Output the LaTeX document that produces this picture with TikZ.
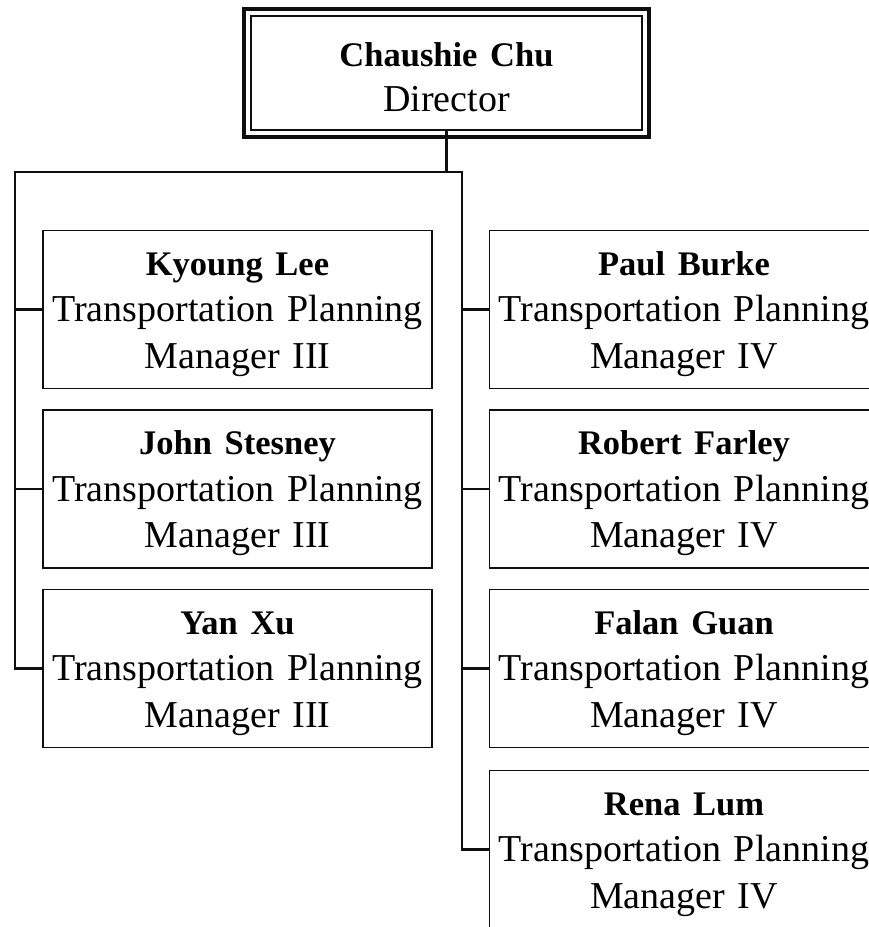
\documentclass[tikz,border=0pt]{standalone}
\usepackage{fontspec}
\setmainfont{Liberation Serif}
\usepackage{tikz}
\usetikzlibrary{positioning}
\definecolor{orgink}{RGB}{15,15,15}
\newcommand{\pname}[1]{{\fontsize{34.5}{46.5}\selectfont\bfseries\rule{0pt}{33pt}#1}}
\tikzstyle{link} = [line width=2.2pt, color=orgink]
\tikzstyle{staff} = [rectangle, minimum width=389pt, minimum height=158pt, text width=385pt, align=center, inner sep=0pt, draw=orgink, line width=1.2pt, font=\fontsize{38}{46.5}\selectfont]
\tikzstyle{headbox} = [rectangle, minimum width=391pt, minimum height=114pt, text width=385pt, align=center, inner sep=0pt, draw=orgink, line width=1.2pt, font=\fontsize{38}{45}\selectfont]

\begin{document}
\begin{tikzpicture}[x=1pt, y=1pt]
\useasboundingbox (0,0) rectangle (869,-927);
\clip (0,0) rectangle (869,-927);

% Director
\node (dir) [headbox] at (446.5,-73) {\pname{Chaushie Chu}\\Director};
\draw[line width=4.5pt, orgink] ([shift={(-6.5pt,6.5pt)}]dir.north west) rectangle ([shift={(6.5pt,-6.5pt)}]dir.south east);

% Left column
\node (kyoung) [staff] at (237.5,-309.5) {\pname{Kyoung Lee}\\Transportation Planning\\Manager III};
\node (john) [staff, below of=kyoung, node distance=179.5pt] {\pname{John Stesney}\\Transportation Planning\\Manager III};
\node (yan) [staff, below of=john, node distance=179.5pt] {\pname{Yan Xu}\\Transportation Planning\\Manager III};

% Right column
\node (paul) [staff] at (684,-309.5) {\pname{Paul Burke}\\Transportation Planning\\Manager IV};
\node (robert) [staff, below of=paul, node distance=179.5pt] {\pname{Robert Farley}\\Transportation Planning\\Manager IV};
\node (falan) [staff, below of=robert, node distance=179.5pt] {\pname{Falan Guan}\\Transportation Planning\\Manager IV};
\node (rena) [staff, below of=falan, node distance=181pt] {\pname{Rena Lum}\\Transportation Planning\\Manager IV};

% Connections
\coordinate (lbus) at (15,-172);
\coordinate (rbus) at (462,-172);
\draw[link] (dir.south) -- (dir.south |- lbus);
\draw[link] (yan) -| (lbus) -- (rbus) |- (rena);
\draw[link] (lbus |- kyoung) -- (kyoung);
\draw[link] (lbus |- john) -- (john);
\draw[link] (rbus |- paul) -- (paul);
\draw[link] (rbus |- robert) -- (robert);
\draw[link] (rbus |- falan) -- (falan);
\end{tikzpicture}
\end{document}
